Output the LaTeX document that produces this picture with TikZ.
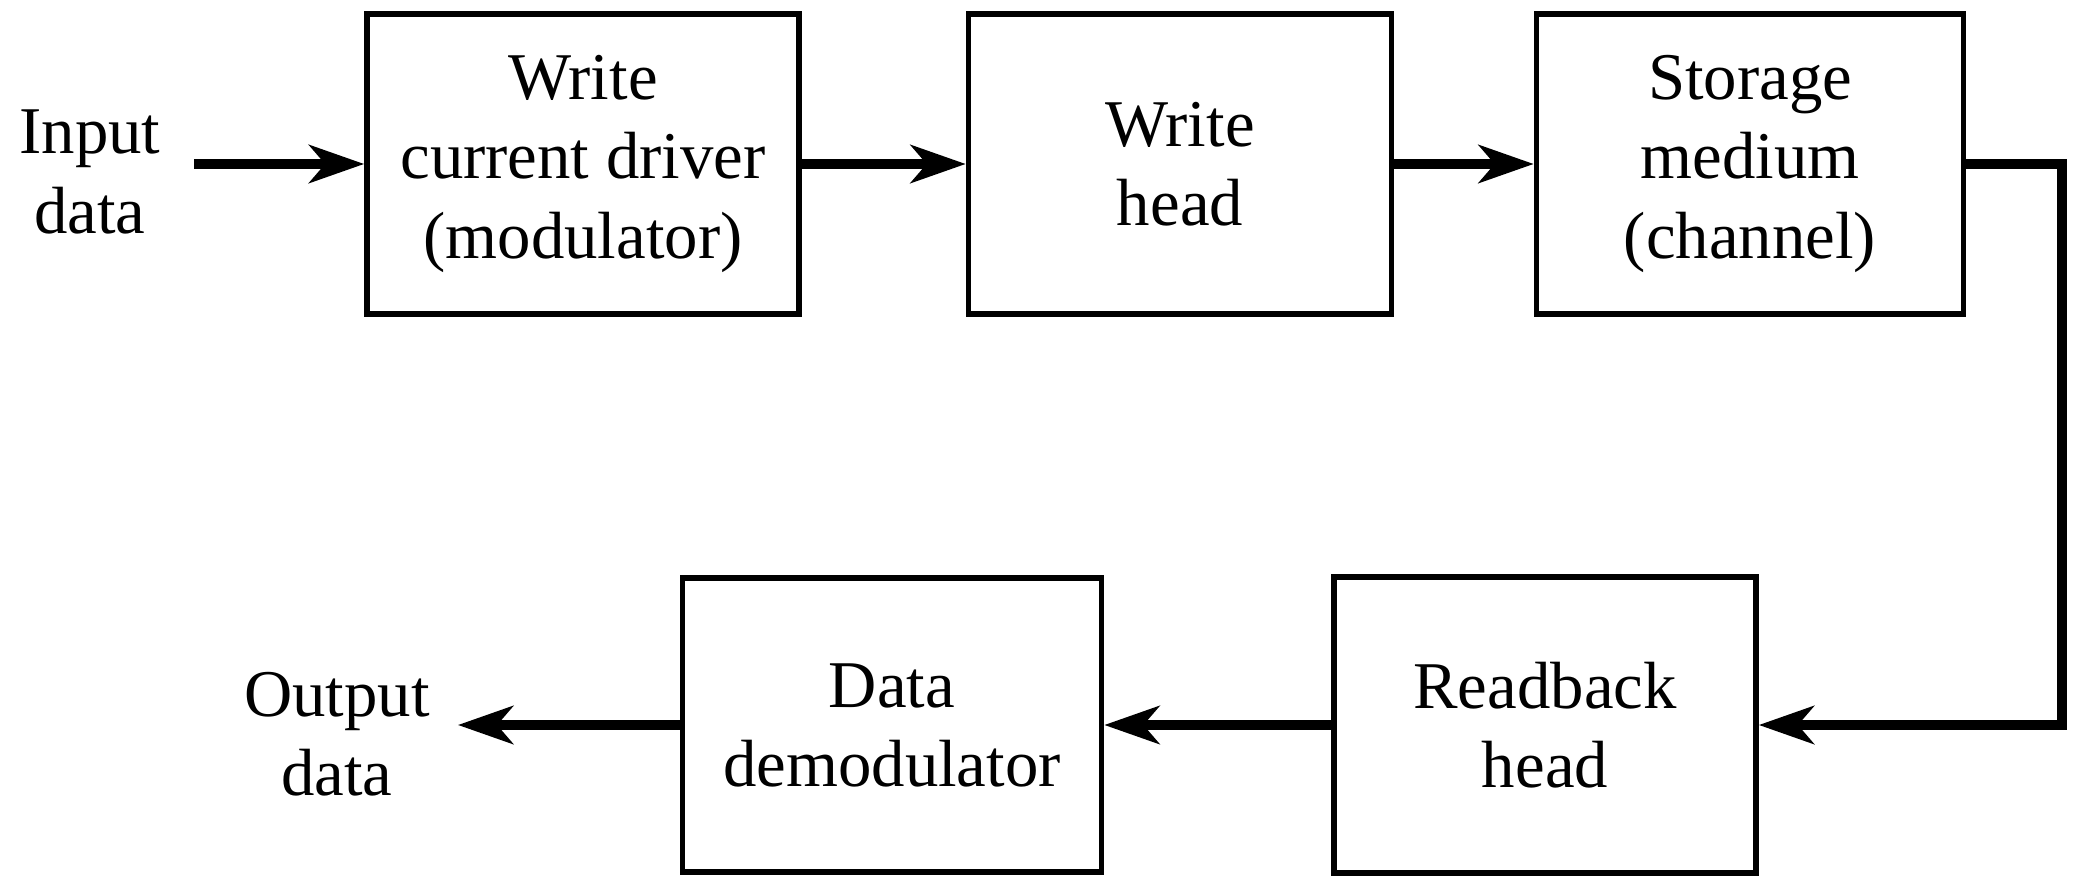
\documentclass[tikz,border=0pt]{standalone}
\usepackage{fontspec}
\setmainfont{Liberation Serif}
\usetikzlibrary{arrows.meta, positioning}

\tikzset{
    blk/.style={draw, line width=1.6pt, minimum height=3cm, align=center,
        font=\fontsize{19}{22.5}\selectfont},
    lbl/.style={align=center, font=\fontsize{19}{22.5}\selectfont},
    flow/.style={line width=2.6pt, -{Stealth[length=5.5mm, width=3.8mm, inset=1.6mm]}}
}

\begin{document}
\begin{tikzpicture}
                        \useasboundingbox (0, 0) rectangle (20.76, 8.80);

                        \node[lbl] (in) at (0.90, 7.08) {Input\\data};
                        \node[blk, minimum width=4.32cm] (drv) at (5.83, 7.16) {Write\\current driver\\(modulator)};
                        \node[blk, minimum width=4.23cm] (whd) at (11.80, 7.16) {Write\\head};
                        \node[blk, minimum width=4.27cm] (med) at (17.50, 7.16) {Storage\\medium\\(channel)};
                        \node[blk, minimum width=4.22cm, minimum height=2.96cm] (rhd) at (15.45, 1.55) {Readback\\head};
                        \node[blk, minimum width=4.19cm, minimum height=2.94cm] (dem) at (8.92, 1.55) {Data\\demodulator};
                        \node[lbl] (out) at (3.37, 1.46) {Output\\data};

                        \coordinate (src) at (1.94, 7.16);
                        \coordinate (snk) at (4.58, 1.55);
                        \coordinate (turn) at (20.62, 7.16);

                        \draw[flow] (src) -- (drv.west);
                        \draw[flow] (drv.east) -- (whd.west);
                        \draw[flow] (whd.east) -- (med.west);
                        \draw[flow] (med.east) -- (turn) |- (rhd.east);
                        \draw[flow] (rhd.west) -- (dem.east);
                        \draw[flow] (dem.west) -- (snk);
                    \end{tikzpicture}
\end{document}
